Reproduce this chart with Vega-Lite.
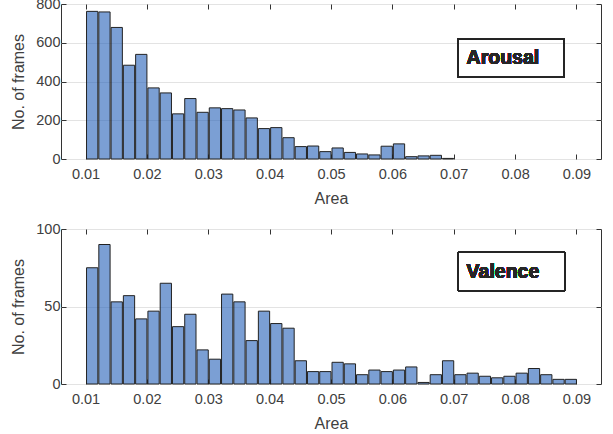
{
  "$schema": "https://vega.github.io/schema/vega-lite/v6.json",
  "background": "white",
  "padding": {"left": 10, "top": -5, "right": 5, "bottom": 0},
  "datasets": {
    "arousal": [
      {"start": 0.010, "end": 0.012, "count": 762},
      {"start": 0.012, "end": 0.014, "count": 759},
      {"start": 0.014, "end": 0.016, "count": 679},
      {"start": 0.016, "end": 0.018, "count": 484},
      {"start": 0.018, "end": 0.020, "count": 540},
      {"start": 0.020, "end": 0.022, "count": 367},
      {"start": 0.022, "end": 0.024, "count": 341},
      {"start": 0.024, "end": 0.026, "count": 233},
      {"start": 0.026, "end": 0.028, "count": 312},
      {"start": 0.028, "end": 0.030, "count": 241},
      {"start": 0.030, "end": 0.032, "count": 264},
      {"start": 0.032, "end": 0.034, "count": 260},
      {"start": 0.034, "end": 0.036, "count": 253},
      {"start": 0.036, "end": 0.038, "count": 212},
      {"start": 0.038, "end": 0.040, "count": 157},
      {"start": 0.040, "end": 0.042, "count": 162},
      {"start": 0.042, "end": 0.044, "count": 110},
      {"start": 0.044, "end": 0.046, "count": 64},
      {"start": 0.046, "end": 0.048, "count": 67},
      {"start": 0.048, "end": 0.050, "count": 38},
      {"start": 0.050, "end": 0.052, "count": 57},
      {"start": 0.052, "end": 0.054, "count": 34},
      {"start": 0.054, "end": 0.056, "count": 26},
      {"start": 0.056, "end": 0.058, "count": 21},
      {"start": 0.058, "end": 0.060, "count": 66},
      {"start": 0.060, "end": 0.062, "count": 78},
      {"start": 0.062, "end": 0.064, "count": 12},
      {"start": 0.064, "end": 0.066, "count": 16},
      {"start": 0.066, "end": 0.068, "count": 19},
      {"start": 0.068, "end": 0.070, "count": 3}
    ],
    "valence": [
      {"start": 0.010, "end": 0.012, "count": 75},
      {"start": 0.012, "end": 0.014, "count": 90},
      {"start": 0.014, "end": 0.016, "count": 53},
      {"start": 0.016, "end": 0.018, "count": 57},
      {"start": 0.018, "end": 0.020, "count": 42},
      {"start": 0.020, "end": 0.022, "count": 47},
      {"start": 0.022, "end": 0.024, "count": 65},
      {"start": 0.024, "end": 0.026, "count": 37},
      {"start": 0.026, "end": 0.028, "count": 45},
      {"start": 0.028, "end": 0.030, "count": 22},
      {"start": 0.030, "end": 0.032, "count": 16},
      {"start": 0.032, "end": 0.034, "count": 58},
      {"start": 0.034, "end": 0.036, "count": 53},
      {"start": 0.036, "end": 0.038, "count": 28},
      {"start": 0.038, "end": 0.040, "count": 47},
      {"start": 0.040, "end": 0.042, "count": 39},
      {"start": 0.042, "end": 0.044, "count": 36},
      {"start": 0.044, "end": 0.046, "count": 15},
      {"start": 0.046, "end": 0.048, "count": 8},
      {"start": 0.048, "end": 0.050, "count": 8},
      {"start": 0.050, "end": 0.052, "count": 14},
      {"start": 0.052, "end": 0.054, "count": 13},
      {"start": 0.054, "end": 0.056, "count": 6},
      {"start": 0.056, "end": 0.058, "count": 9},
      {"start": 0.058, "end": 0.060, "count": 8},
      {"start": 0.060, "end": 0.062, "count": 9},
      {"start": 0.062, "end": 0.064, "count": 11},
      {"start": 0.064, "end": 0.066, "count": 1},
      {"start": 0.066, "end": 0.068, "count": 6},
      {"start": 0.068, "end": 0.070, "count": 15},
      {"start": 0.070, "end": 0.072, "count": 6},
      {"start": 0.072, "end": 0.074, "count": 7},
      {"start": 0.074, "end": 0.076, "count": 5},
      {"start": 0.076, "end": 0.078, "count": 4},
      {"start": 0.078, "end": 0.080, "count": 5},
      {"start": 0.080, "end": 0.082, "count": 7},
      {"start": 0.082, "end": 0.084, "count": 10},
      {"start": 0.084, "end": 0.086, "count": 6},
      {"start": 0.086, "end": 0.088, "count": 3},
      {"start": 0.088, "end": 0.090, "count": 3}
    ]
  },
  "config": {
    "font": "Liberation Sans",
    "view": {"stroke": "#333333", "strokeWidth": 1},
    "axis": {
      "labelFont": "Liberation Sans",
      "labelFontSize": 14.5,
      "labelColor": "#404040",
      "titleFont": "Liberation Sans",
      "titleFontSize": 16,
      "titleFontWeight": "normal",
      "titleColor": "#404040",
      "gridColor": "#e3e3e3",
      "gridWidth": 1,
      "domain": false,
      "tickColor": "#333333",
      "tickSize": -5
    }
  },
  "spacing": 70,
  "bounds": "flush",
  "vconcat": [
    {
      "width": 540,
      "height": 155,
      "data": {"name": "arousal"},
      "resolve": {"axis": {"x": "independent", "y": "independent"}},
      "layer": [
        {
          "mark": {"type": "bar", "fill": "#235fb7", "fillOpacity": 0.6, "stroke": "#222222", "strokeWidth": 1},
          "encoding": {
            "x": {"field": "start", "type": "quantitative", "bin": "binned",
                  "scale": {"domain": [0.006, 0.094], "nice": false},
                  "axis": {"values": [0.01, 0.02, 0.03, 0.04, 0.05, 0.06, 0.07, 0.08, 0.09], "format": ".2f", "title": "Area", "labelPadding": 13, "titlePadding": 10}},
            "x2": {"field": "end"},
            "y": {"field": "count", "type": "quantitative",
                  "scale": {"domain": [0, 800], "nice": false},
                  "axis": {"values": [0, 200, 400, 600, 800], "title": "No. of frames", "labelPadding": 6, "titlePadding": 9}}
          }
        },
        {
          "mark": {"type": "rect", "fill": "transparent", "stroke": "#262626", "strokeWidth": 1},
          "encoding": {
            "x": {"datum": 0.0707, "type": "quantitative", "axis": null},
            "x2": {"datum": 0.0880},
            "y": {"datum": 621, "type": "quantitative", "axis": null},
            "y2": {"datum": 422}
          }
        },
        {
          "mark": {"type": "text", "text": "Arousal", "font": "Liberation Sans", "fontSize": 19.5, "fontWeight": "bold", "align": "left", "baseline": "alphabetic", "fill": "#262626", "stroke": null},
          "encoding": {
            "x": {"datum": 0.0721, "type": "quantitative", "axis": {"orient": "top", "labels": false, "grid": false, "title": null, "values": [0.01, 0.02, 0.03, 0.04, 0.05, 0.06, 0.07, 0.08, 0.09]}},
            "y": {"datum": 488, "type": "quantitative", "axis": {"orient": "right", "labels": false, "grid": false, "title": null, "values": [0, 200, 400, 600, 800]}}
          }
        }
      ]
    },
    {
      "width": 540,
      "height": 155,
      "data": {"name": "valence"},
      "resolve": {"axis": {"x": "independent", "y": "independent"}},
      "layer": [
        {
          "mark": {"type": "bar", "fill": "#235fb7", "fillOpacity": 0.6, "stroke": "#222222", "strokeWidth": 1},
          "encoding": {
            "x": {"field": "start", "type": "quantitative", "bin": "binned",
                  "scale": {"domain": [0.006, 0.094], "nice": false},
                  "axis": {"values": [0.01, 0.02, 0.03, 0.04, 0.05, 0.06, 0.07, 0.08, 0.09], "format": ".2f", "title": "Area", "labelPadding": 13, "titlePadding": 10}},
            "x2": {"field": "end"},
            "y": {"field": "count", "type": "quantitative",
                  "scale": {"domain": [0, 100], "nice": false},
                  "axis": {"values": [0, 50, 100], "title": "No. of frames", "labelPadding": 6, "titlePadding": 9}}
          }
        },
        {
          "mark": {"type": "rect", "fill": "transparent", "stroke": "#262626", "strokeWidth": 1},
          "encoding": {
            "x": {"datum": 0.0707, "type": "quantitative", "axis": null},
            "x2": {"datum": 0.0881},
            "y": {"datum": 85.1, "type": "quantitative", "axis": null},
            "y2": {"datum": 60.2}
          }
        },
        {
          "mark": {"type": "text", "text": "Valence", "font": "Liberation Sans", "fontSize": 19.5, "fontWeight": "bold", "align": "left", "baseline": "alphabetic", "fill": "#262626", "stroke": null},
          "encoding": {
            "x": {"datum": 0.0721, "type": "quantitative", "axis": {"orient": "top", "labels": false, "grid": false, "title": null, "values": [0.01, 0.02, 0.03, 0.04, 0.05, 0.06, 0.07, 0.08, 0.09]}},
            "y": {"datum": 68.1, "type": "quantitative", "axis": {"orient": "right", "labels": false, "grid": false, "title": null, "values": [0, 50, 100]}}
          }
        }
      ]
    }
  ]
}
